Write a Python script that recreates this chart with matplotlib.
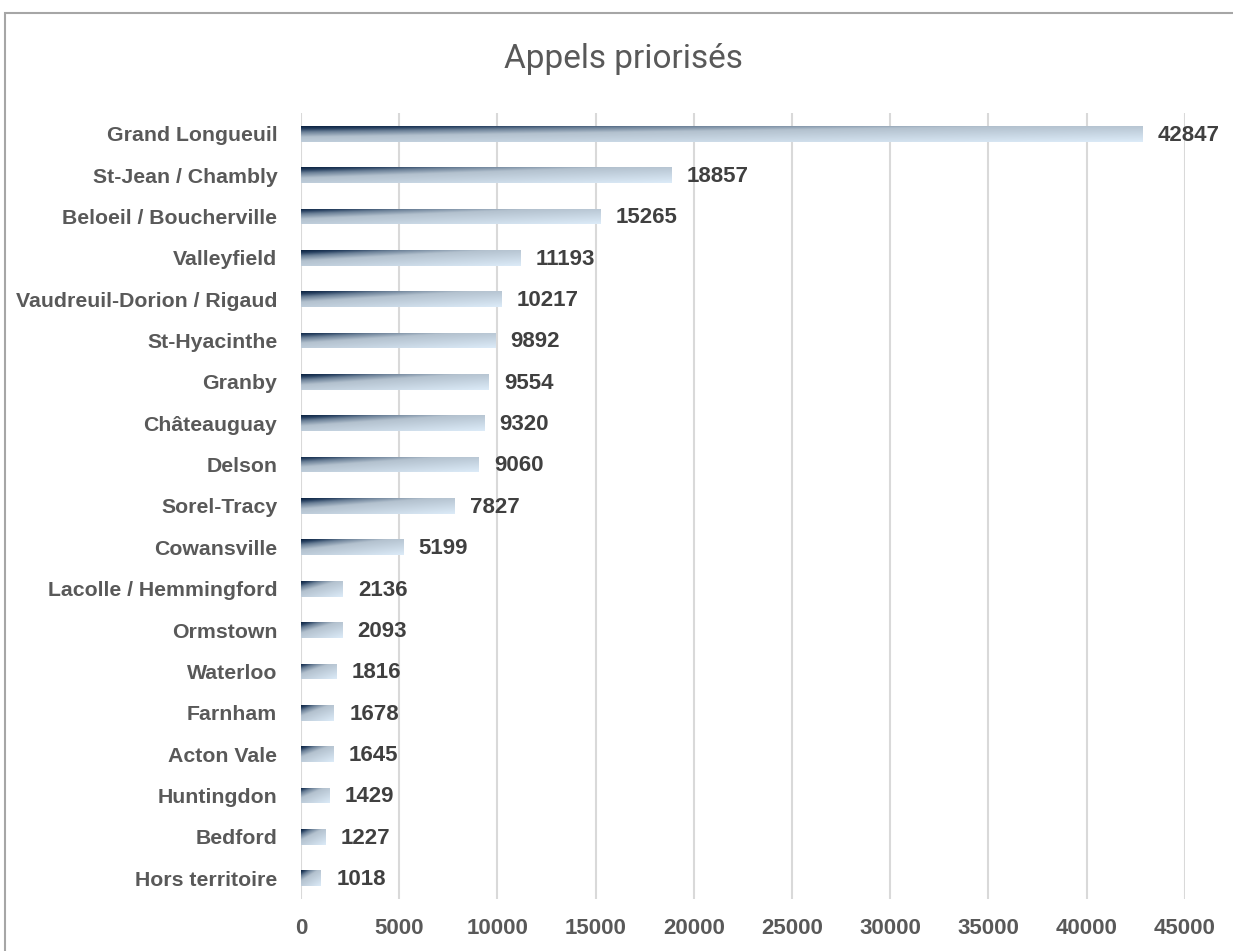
import matplotlib.pyplot as plt
import numpy as np
from matplotlib.colors import LinearSegmentedColormap
from matplotlib.patches import Rectangle

regions = [
    'Grand Longueuil', 'St-Jean / Chambly', 'Beloeil / Boucherville',
    'Valleyfield', 'Vaudreuil-Dorion / Rigaud', 'St-Hyacinthe', 'Granby',
    'Châteauguay', 'Delson', 'Sorel-Tracy', 'Cowansville',
    'Lacolle / Hemmingford', 'Ormstown', 'Waterloo', 'Farnham',
    'Acton Vale', 'Huntingdon', 'Bedford', 'Hors territoire',
]
calls = [
    42847, 18857, 15265, 11193, 10217, 9892, 9554, 9320, 9060, 7827,
    5199, 2136, 2093, 1816, 1678, 1645, 1429, 1227, 1018,
]
xticks = list(range(0, 45001, 5000))

LABEL_GREY = '#595959'
VALUE_GREY = '#404040'
GRID_GREY = '#d9d9d9'

# diagonal fill: dark navy in the top-left corner fading to pale blue
grad_cmap = LinearSegmentedColormap.from_list(
    'navy_fade',
    [(0.0, '#0b2240'), (0.09, '#263f5f'), (0.2, '#6b8097'),
     (0.38, '#b3c1ce'), (1.0, '#dcebf8')])
u = np.linspace(0, 1, 256)[None, :]
v = np.linspace(0, 1, 32)[:, None]
grad = 0.45 * u + 0.55 * v

fig = plt.figure(figsize=(12.33, 9.51), dpi=100)
ax = fig.add_axes([0.2441, 0.0547, 0.7169, 0.8265])

ypos = np.arange(len(regions))
height = 0.38
bars = ax.barh(ypos, calls, height=height, color='none', zorder=3)

for bar, val in zip(bars, calls):
    y0 = bar.get_y()
    im = ax.imshow(grad, cmap=grad_cmap, vmin=0, vmax=1, aspect='auto',
                   interpolation='bilinear',
                   extent=(0, val, y0 + bar.get_height(), y0), zorder=3)
    im.set_clip_path(bar)
    ax.annotate(f'{val}', xy=(val, bar.get_y() + bar.get_height() / 2),
                xytext=(11, -1), textcoords='offset points',
                ha='left', va='center', fontsize=16, fontweight='bold',
                color=VALUE_GREY, family='Liberation Sans')

ax.set_xlim(0, 45000)
ax.set_ylim(len(regions) - 0.5, -0.5)
ax.set_xticks(xticks)
ax.set_yticks(ypos)
ax.set_yticklabels(regions)
ax.xaxis.grid(True, color=GRID_GREY, linewidth=1.5, zorder=0)
ax.set_axisbelow(True)
for spine in ax.spines.values():
    spine.set_visible(False)
ax.tick_params(axis='both', length=0, labelcolor=LABEL_GREY)
ax.tick_params(axis='x', pad=14)
ax.tick_params(axis='y', pad=17)
for lab in ax.get_xticklabels():
    lab.set_fontweight('bold')
    lab.set_family('Liberation Sans')
    lab.set_fontsize(16)
for lab in ax.get_yticklabels():
    lab.set_fontweight('bold')
    lab.set_family('Liberation Sans')
    lab.set_fontsize(15.3)

fig.text(623 / 1233, 1 - 59 / 951, 'Appels priorisés', ha='center',
         va='center', fontsize=24, color=LABEL_GREY, family='Roboto')

# chart frame, cut off at the right and bottom edges
fig.patches.append(Rectangle((5 / 1233, -0.1), 1.2, 1 - 13 / 951 + 0.1,
                             transform=fig.transFigure, fill=False,
                             edgecolor='#a6a6a6', linewidth=1.5))

fig.savefig('out.png', dpi=100)
